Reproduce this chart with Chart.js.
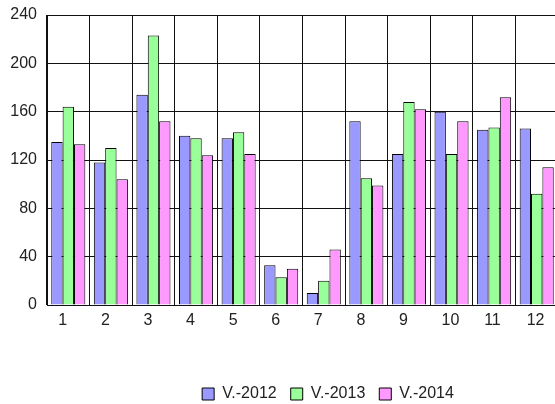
<!DOCTYPE html>
<html>
<head>
<meta charset="utf-8">
<script src="https://cdn.jsdelivr.net/npm/chart.js@4"></script>
<style>
  html, body { margin: 0; padding: 0; background: #fff; overflow: hidden; }
  #myChart { position: absolute; left: 0; top: 0; }
</style>
</head>
<body>
<canvas id="myChart" width="656" height="412"></canvas>
<script>
/* Data */
var months = ['1', '2', '3', '4', '5', '6', '7', '8', '9', '10', '11', '12'];
var v2012 = [135, 118, 174, 140, 138, 33, 10, 152, 125, 160, 145, 146];
var v2013 = [164, 130, 223, 138, 143, 23, 20, 105, 168, 125, 147, 92];
var v2014 = [133, 104, 152, 124, 125, 30, 46, 99, 162, 152, 172, 114];
var yTicks = [0, 40, 80, 120, 160, 200, 240];

Chart.defaults.font.family = "'Liberation Sans', Arial, sans-serif";
Chart.defaults.font.size = 16;
Chart.defaults.color = '#222';

const ctx = document.getElementById('myChart');

new Chart(ctx, {
    type: 'bar',
    data: {
        labels: months,
        datasets: [{
            label: 'V.-2012',
            data: v2012,
            backgroundColor: '#9999ff',
            borderColor: '#000',
            borderWidth: 1
        }, {
            label: 'V.-2013',
            data: v2013,
            backgroundColor: '#99ff99',
            borderColor: '#000',
            borderWidth: 1
        }, {
            label: 'V.-2014',
            data: v2014,
            backgroundColor: '#ff99ff',
            borderColor: '#000',
            borderWidth: 1
        }]
    },
    options: {
        responsive: false,
        animation: false,
        devicePixelRatio: 1,
        layout: { padding: { top: 15, left: 0, right: 0, bottom: 0 } },
        datasets: {
            bar: { barPercentage: 1.0, categoryPercentage: 0.8 }
        },
        plugins: {
            title: { display: false },
            tooltip: { enabled: false },
            legend: {
                position: 'bottom',
                labels: { boxWidth: 12, boxHeight: 12, padding: 14, color: '#222' }
            }
        },
        scales: {
            x: {
                grid: { color: '#111', lineWidth: 1, offset: true, drawTicks: false },
                border: { color: '#111', width: 1 },
                ticks: { padding: 6, align: 'start', labelOffset: -10, maxRotation: 0, autoSkip: false },
                afterFit: function (s) { s.height = 67; }
            },
            y: {
                min: 0,
                max: 240,
                grid: { color: '#111', lineWidth: 1, drawTicks: false },
                border: { color: '#111', width: 1 },
                ticks: { stepSize: 40, padding: 10 },
                afterBuildTicks: function (s) { s.ticks = yTicks.map(function (v) { return { value: v }; }); },
                // fixed width, and no extra room above the top label
                afterFit: function (s) { s.width = 47; s.paddingTop = 0; s.paddingBottom = 0; }
            },
            yRight: {
                type: 'linear',
                position: 'right',
                grid: { display: false },
                border: { display: false },
                ticks: { display: false },
                afterFit: function (s) { s.width = 98; s.paddingTop = 0; s.paddingBottom = 0; }
            }
        }
    }
});
</script>
</body>
</html>
